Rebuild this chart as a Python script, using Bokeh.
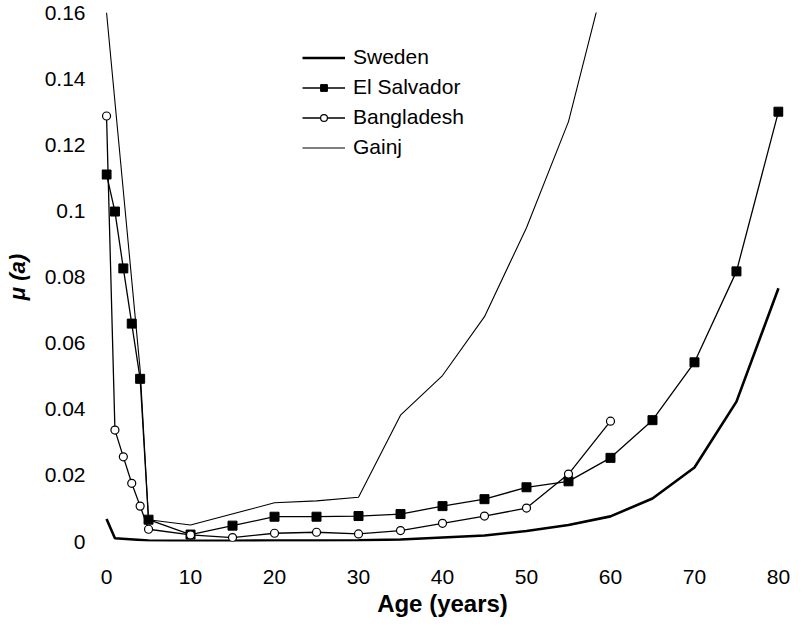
from bokeh.plotting import figure
from bokeh.models import Range1d, FixedTicker, Legend, LegendItem
from bokeh.embed import file_html
from bokeh.resources import INLINE

# ---- data ----
sweden_age = [0, 1, 5, 10, 15, 20, 25, 30, 35, 40, 45, 50, 55, 60, 65, 70, 75, 80]
sweden_mu = [0.0068, 0.0010, 0.0003, 0.0002, 0.0002, 0.0003, 0.0003, 0.0004, 0.0006,
             0.0012, 0.0018, 0.0032, 0.0050, 0.0076, 0.0130, 0.0224, 0.0423, 0.0766]

salvador_age = [0, 1, 2, 3, 4, 5, 10, 15, 20, 25, 30, 35, 40, 45, 50, 55, 60, 65, 70, 75, 80]
salvador_mu = [0.111, 0.0998, 0.0826, 0.0659, 0.0492, 0.0066, 0.0021, 0.0048, 0.0075, 0.0075,
               0.0077, 0.0083, 0.0107, 0.0128, 0.0164, 0.0182, 0.0253, 0.0367, 0.0542, 0.0817, 0.130]

bangladesh_age = [0, 1, 2, 3, 4, 5, 10, 15, 20, 25, 30, 35, 40, 45, 50, 55, 60]
bangladesh_mu = [0.1287, 0.0337, 0.0256, 0.0176, 0.0107, 0.0037, 0.0020, 0.0012, 0.0025,
                 0.0028, 0.0023, 0.0033, 0.0055, 0.0077, 0.0101, 0.0204, 0.0364]

gainj_age = [0, 4, 5, 10, 20, 25, 30, 35, 40, 45, 50, 55, 60]
gainj_mu = [0.160, 0.0520, 0.0066, 0.0050, 0.0117, 0.0123, 0.0134, 0.0382, 0.0502,
            0.0680, 0.0949, 0.127, 0.177]

x_ticks = [0, 10, 20, 30, 40, 50, 60, 70, 80]
y_ticks = [0, 0.02, 0.04, 0.06, 0.08, 0.1, 0.12, 0.14, 0.16]
y_tick_labels = ["0", "0.02", "0.04", "0.06", "0.08", "0.1", "0.12", "0.14", "0.16"]

FONT = "Liberation Sans"

p = figure(frame_width=682, frame_height=529,
           x_range=Range1d(-0.6, 80.6), y_range=Range1d(0, 0.16),
           output_backend="svg", toolbar_location=None,
           min_border_left=101, min_border_right=8,
           min_border_top=12, min_border_bottom=82)

p.outline_line_color = None
p.grid.grid_line_color = None
p.background_fill_color = "white"
p.border_fill_color = "white"

for ax in (p.xaxis[0], p.yaxis[0]):
    ax.axis_line_color = None
    ax.major_tick_line_color = None
    ax.minor_tick_line_color = None
    ax.major_tick_out = 0
    ax.major_tick_in = 0
    ax.major_label_text_font = FONT
    ax.major_label_text_font_size = "21px"
    ax.major_label_text_color = "black"
    ax.axis_label_text_font = FONT
    ax.axis_label_text_color = "black"

p.xaxis.ticker = FixedTicker(ticks=x_ticks)
p.yaxis.ticker = FixedTicker(ticks=y_ticks)
p.yaxis.major_label_overrides = {t: l for t, l in zip(y_ticks, y_tick_labels)}
p.xaxis.major_label_overrides = {t: str(t) for t in x_ticks}

p.xaxis.axis_label = "Age (years)"
p.xaxis.axis_label_text_font_size = "24px"
p.xaxis.axis_label_text_font_style = "bold"
p.xaxis.major_label_standoff = 28
p.xaxis.axis_label_standoff = 3

p.yaxis.axis_label = "\u03bc (a)"
p.yaxis.axis_label_text_font_size = "22px"
p.yaxis.axis_label_text_font_style = "bold italic"
p.yaxis.major_label_standoff = 16
p.yaxis.axis_label_standoff = 12

# ---- series ----
r_sw = p.line(sweden_age, sweden_mu, line_color="black", line_width=2.6)

r_es_l = p.line(salvador_age, salvador_mu, line_color="black", line_width=1.3)
r_es_m = p.scatter(salvador_age, salvador_mu, marker="square", size=9,
                   fill_color="black", line_color="black")

r_bd_l = p.line(bangladesh_age, bangladesh_mu, line_color="black", line_width=1.3)
r_bd_m = p.scatter(bangladesh_age, bangladesh_mu, marker="circle", size=8,
                   fill_color="white", line_color="black", line_width=1.2)

r_gj = p.line(gainj_age, gainj_mu, line_color="black", line_width=1.1)

legend = Legend(items=[
    LegendItem(label="Sweden", renderers=[r_sw]),
    LegendItem(label="El Salvador", renderers=[r_es_l, r_es_m]),
    LegendItem(label="Bangladesh", renderers=[r_bd_l, r_bd_m]),
    LegendItem(label="Gainj", renderers=[r_gj]),
], location=(201, 379))
legend.background_fill_alpha = 0
legend.border_line_color = None
legend.padding = 0
legend.margin = 0
legend.spacing = 0
legend.glyph_width = 43
legend.glyph_height = 17
legend.label_height = 30
legend.label_standoff = 8
legend.label_text_font = FONT
legend.label_text_font_size = "21px"
legend.label_text_color = "black"
p.add_layout(legend, "center")

open("out.html", "w").write(file_html(p, INLINE))
